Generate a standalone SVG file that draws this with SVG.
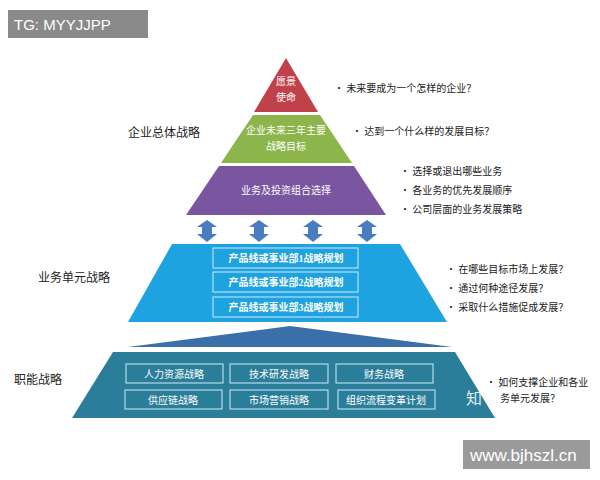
<svg xmlns="http://www.w3.org/2000/svg" width="600" height="480" viewBox="0 0 600 480">
<style>
text{font-family:"Noto Sans CJK SC","Liberation Sans",sans-serif}
.w{fill:#fff;font-size:10px;text-anchor:middle}
.l{fill:#222;font-size:12px}
.b{fill:#222;font-size:10px}
.bx{fill:none;stroke:#cfeaf7;stroke-width:1}
.bb{fill:#fff;font-size:10px;text-anchor:middle;font-weight:bold;font-family:"Liberation Serif","Noto Sans CJK SC",serif}
</style>
<defs>
<path id="arr" d="M0,0 L10,7 L5,7 L5,14 L10,14 L0,22 L-10,14 L-5,14 L-5,7 L-10,7 Z" fill="#4a7cc0"/>
</defs>
<rect width="600" height="480" fill="#fff"/>
<g id="tg"><rect x="8" y="10" width="140" height="28" fill="#8a8a8a"/><text x="14" y="30" fill="#fff" font-size="15" style="font-family:'Liberation Sans',sans-serif">TG: MYYJJPP</text></g>
<g id="top"><polygon points="286,58 318,112 254,112" fill="#c0414a"/><text class="w" x="286" y="85">愿景</text><text class="w" x="286" y="101">使命</text></g>
<g id="mid"><polygon points="253,115 320,115 352,163 221,163" fill="#8cb54c"/><text class="w" x="286" y="134">企业未来三年主要</text><text class="w" x="286" y="150">战略目标</text></g>
<g id="port"><polygon points="219,166 354,166 386,215 186,215" fill="#7a55a0"/><text class="w" x="286" y="194">业务及投资组合选择</text></g>
<g id="arrows"><use href="#arr" x="207" y="220"/><use href="#arr" x="259" y="220"/><use href="#arr" x="313" y="220"/><use href="#arr" x="367" y="220"/></g>
<g id="bu"><polygon points="172,244 400,244 447,322 128,322" fill="#1fa3e0"/>
<rect class="bx" x="213" y="248" width="145" height="20"/><text class="bb" x="286" y="262">产品线或事业部1战略规划</text>
<rect class="bx" x="213" y="272" width="145" height="20"/><text class="bb" x="286" y="286">产品线或事业部2战略规划</text>
<rect class="bx" x="213" y="297" width="145" height="20"/><text class="bb" x="286" y="311">产品线或事业部3战略规划</text></g>
<g id="tri"><polygon points="290,326 452,347 128,347" fill="#3b6fa8"/></g>
<g id="func"><polygon points="113,352 455,352 495,418 72,418" fill="#2a7e9a"/>
<rect class="bx" x="126" y="364" width="97" height="19"/><text class="w" x="174" y="378">人力资源战略</text>
<rect class="bx" x="230" y="364" width="98" height="19"/><text class="w" x="279" y="378">技术研发战略</text>
<rect class="bx" x="336" y="364" width="97" height="19"/><text class="w" x="384" y="378">财务战略</text>
<rect class="bx" x="125" y="390" width="97" height="19"/><text class="w" x="173" y="404">供应链战略</text>
<rect class="bx" x="230" y="390" width="98" height="19"/><text class="w" x="279" y="404">市场营销战略</text>
<rect class="bx" x="338" y="390" width="97" height="19"/><text class="w" x="386" y="404">组织流程变革计划</text></g>
<g id="labels"><text class="l" x="128" y="137">企业总体战略</text><text class="l" x="38" y="282">业务单元战略</text><text class="l" x="14" y="384">职能战略</text></g>
<g id="bullets">
<text class="b" x="334" y="92">•  未来要成为一个怎样的企业？</text>
<text class="b" x="352" y="135">•  达到一个什么样的发展目标？</text>
<text class="b" x="400" y="175">•  选择或退出哪些业务</text>
<text class="b" x="400" y="194">•  各业务的优先发展顺序</text>
<text class="b" x="400" y="213">•  公司层面的业务发展策略</text>
<text class="b" x="446" y="273">•  在哪些目标市场上发展？</text>
<text class="b" x="446" y="292">•  通过何种途径发展？</text>
<text class="b" x="446" y="311">•  采取什么措施促成发展？</text>
<text class="b" x="486" y="386">•  如何支撑企业和各业</text>
<text class="b" x="500" y="402">务单元发展？</text>
</g>
<g id="wm"><text x="466" y="404" fill="#fff" font-size="16" opacity="0.85">知</text><rect x="463" y="440" width="127" height="29" fill="#9a9a9a"/><text x="470" y="461" fill="#fff" font-size="17" style="font-family:'Liberation Sans',sans-serif">www.bjhszl.cn</text></g>
</svg>
